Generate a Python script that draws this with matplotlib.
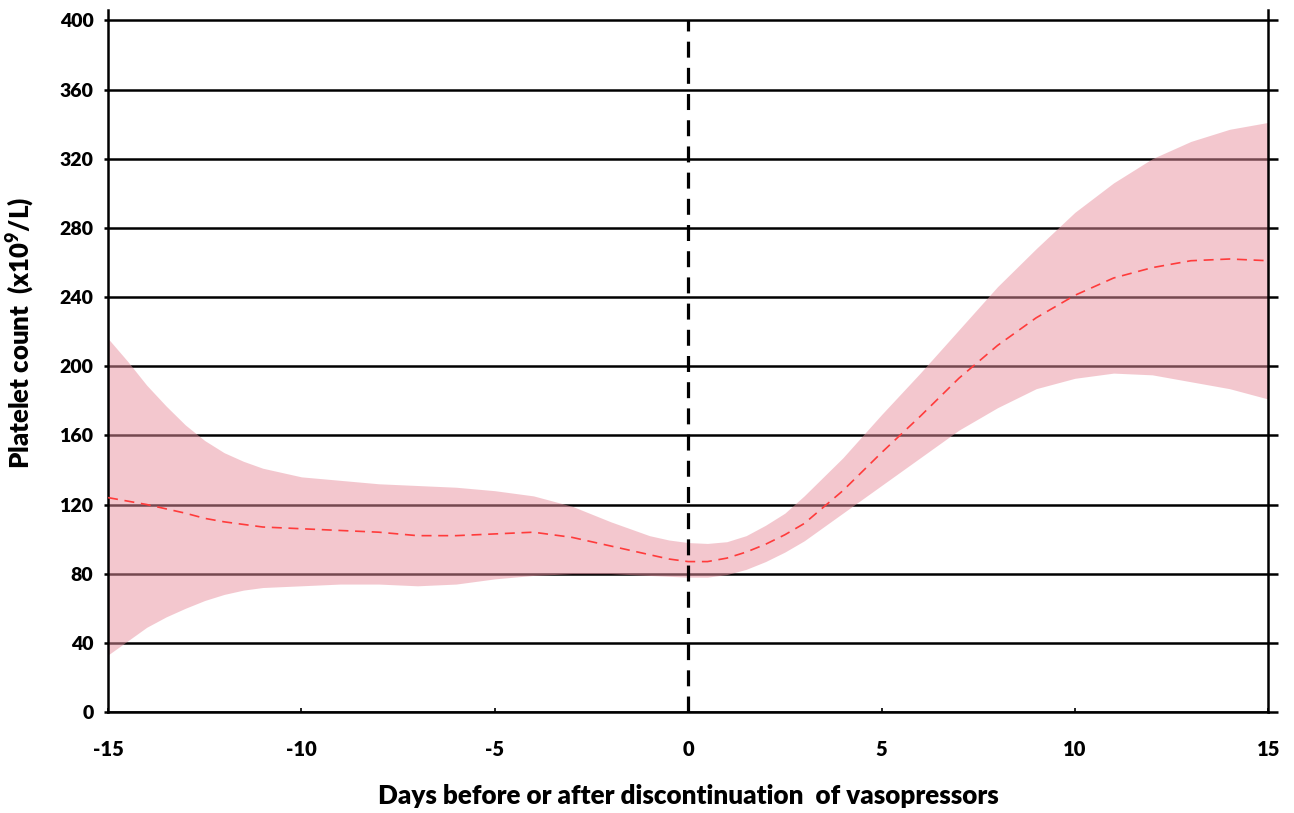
import matplotlib.pyplot as plt
import numpy as np

plt.rcParams['font.family'] = ['Lato', 'DejaVu Sans']
plt.rcParams['font.weight'] = 'heavy'
plt.rcParams['mathtext.default'] = 'regular'
plt.rcParams['axes.unicode_minus'] = False

# days around vasopressor stop (half days where the curves bend)
days = [-15, -14.5, -14, -13.5, -13, -12.5, -12, -11.5, -11, -10, -9, -8, -7, -6, -5, -4,
        -3, -2, -1, -0.5, 0, 0.5, 1, 1.5, 2, 2.5, 3, 4, 5, 6, 7, 8, 9, 10, 11, 12, 13, 14, 15]
# mean platelet count and confidence band
mean_count = [124, 122, 120, 117.5, 115, 112, 110, 108.5, 107, 106, 105, 104, 102, 102, 103, 104,
              101, 96, 91, 88.5, 87, 87, 89, 92.5, 97, 102.5, 109, 128, 150, 171, 193, 212, 228,
              241, 251, 257, 261, 262, 261]
upper_ci = [216, 203, 189, 177, 166, 157, 150, 145, 141, 136, 134, 132, 131, 130, 128, 125,
            119, 110, 102, 99.5, 98, 97.5, 98.5, 102, 108, 115, 125, 147, 172, 196, 221, 246, 268,
            289, 306, 320, 330, 337, 341]
lower_ci = [33, 41, 49, 55, 60, 64.5, 68, 70.5, 72, 73, 74, 74, 73, 74, 77, 79,
            80, 80, 79, 78.5, 78, 78, 79.5, 82.5, 87, 92.5, 99, 115, 131, 147, 163, 176, 187,
            193, 196, 195, 191, 187, 181]

x_ticks = [-15, -10, -5, 0, 5, 10, 15]
y_ticks = [0, 40, 80, 120, 160, 200, 240, 280, 320, 360, 400]

fig = plt.figure(figsize=(12.94, 8.13), dpi=100)
ax = fig.add_axes([0.0835, 0.1242, 0.8966, 0.8635])

# horizontal grid lines behind the band
ax.set_axisbelow(True)
ax.grid(axis='y', color='black', linewidth=1.8)

ax.fill_between(days, lower_ci, upper_ci, color='#e8909f', alpha=0.5, linewidth=0, zorder=2)
ax.plot(days, mean_count, color='#ff3b3b', linewidth=1.2, linestyle=(0, (6, 4)), zorder=3)
ax.plot([0, 0], [0, 400], color='black', linewidth=2.3, linestyle=(0, (5, 3.2)), zorder=4)

ax.set_xlim(-15, 15)
ax.set_ylim(0, 406)
ax.set_xticks(x_ticks)
ax.set_yticks(y_ticks)

ax.spines['top'].set_visible(False)
for s in ['left', 'right', 'bottom']:
    ax.spines[s].set_linewidth(1.8)
    ax.spines[s].set_color('black')

ax.tick_params(axis='y', left=True, right=True, width=1.8, direction='out',
               labelsize=14, pad=7)
for t in ax.yaxis.get_major_ticks():
    t.tick1line.set_markersize(3)
    t.tick2line.set_markersize(7)
ax.tick_params(axis='x', direction='in', length=3, width=1.2, labelsize=14.5, pad=20)

ax.set_xlabel('Days before or after discontinuation  of vasopressors', fontsize=18.7,
              fontweight='heavy', labelpad=18)
ax.set_ylabel('Platelet count  (x10$^9$/L)', fontsize=18.5, fontweight='heavy')
ax.yaxis.set_label_coords(-0.061, 0.54)

fig.savefig('out.png', dpi=100)
